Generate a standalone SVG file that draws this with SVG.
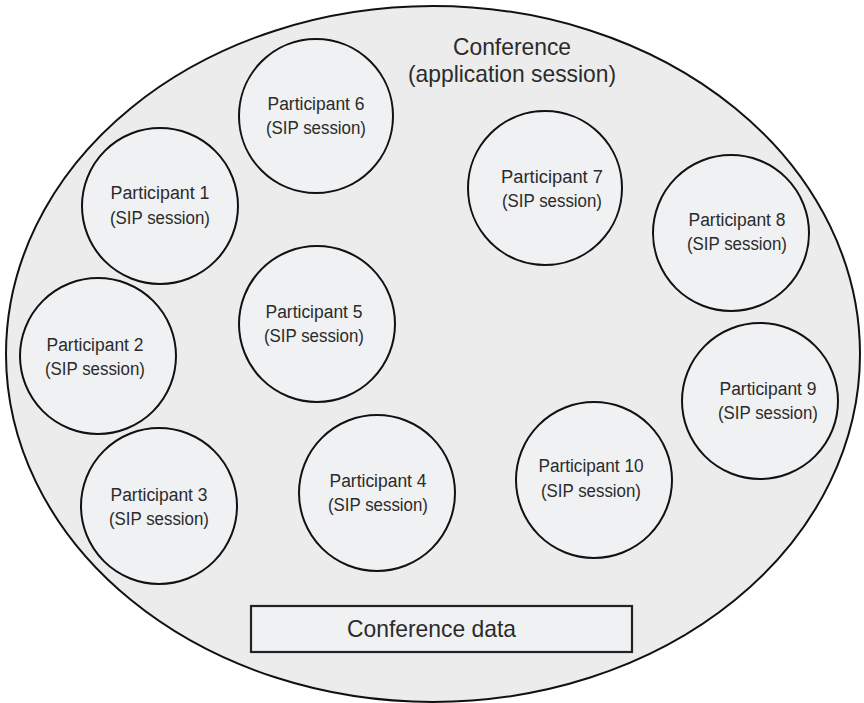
<svg xmlns="http://www.w3.org/2000/svg" width="864" height="703" viewBox="0 0 864 703">
  <style>
    .conf { fill: #ececec; stroke: #111; stroke-width: 2; }
    .part { fill: #f0f1f3; stroke: #111; stroke-width: 2; }
    .box { fill: #f0f1f3; stroke: #222; stroke-width: 2.2; }
    text { font-family: "Liberation Sans Narrow", "Liberation Sans", Arial, sans-serif; fill: #2b2b2b; }
    .lbl { font-size: 18px; text-anchor: middle; }
    .title { font-size: 24px; text-anchor: middle; }
  </style>
  <rect width="864" height="703" fill="#ffffff"/>

  <!-- Conference (application session) -->
  <g id="conference">
    <ellipse class="conf" cx="433" cy="354" rx="427" ry="348"/>
    <text class="title" x="512" y="55" textLength="118" lengthAdjust="spacingAndGlyphs">Conference</text>
    <text class="title" x="512" y="82" textLength="208" lengthAdjust="spacingAndGlyphs">(application session)</text>
  </g>

  <g id="participant6">
    <circle class="part" cx="316" cy="116" r="77"/>
    <text class="lbl" x="316" y="110" textLength="97" lengthAdjust="spacingAndGlyphs">Participant 6</text>
    <text class="lbl" x="316" y="134" textLength="100" lengthAdjust="spacingAndGlyphs">(SIP session)</text>
  </g>

  <g id="participant1">
    <circle class="part" cx="160" cy="206" r="78"/>
    <text class="lbl" x="160" y="199" textLength="99" lengthAdjust="spacingAndGlyphs">Participant 1</text>
    <text class="lbl" x="160" y="224" textLength="100" lengthAdjust="spacingAndGlyphs">(SIP session)</text>
  </g>

  <g id="participant7">
    <circle class="part" cx="545" cy="188" r="77"/>
    <text class="lbl" x="552" y="183" textLength="102" lengthAdjust="spacingAndGlyphs">Participant 7</text>
    <text class="lbl" x="552" y="207" textLength="100" lengthAdjust="spacingAndGlyphs">(SIP session)</text>
  </g>

  <g id="participant8">
    <circle class="part" cx="731" cy="233" r="78"/>
    <text class="lbl" x="737" y="226" textLength="97" lengthAdjust="spacingAndGlyphs">Participant 8</text>
    <text class="lbl" x="737" y="250" textLength="100" lengthAdjust="spacingAndGlyphs">(SIP session)</text>
  </g>

  <g id="participant5">
    <circle class="part" cx="317" cy="324" r="78"/>
    <text class="lbl" x="314" y="318" textLength="97" lengthAdjust="spacingAndGlyphs">Participant 5</text>
    <text class="lbl" x="314" y="342" textLength="100" lengthAdjust="spacingAndGlyphs">(SIP session)</text>
  </g>

  <g id="participant2">
    <circle class="part" cx="98" cy="356" r="78"/>
    <text class="lbl" x="95" y="351" textLength="97" lengthAdjust="spacingAndGlyphs">Participant 2</text>
    <text class="lbl" x="95" y="375" textLength="100" lengthAdjust="spacingAndGlyphs">(SIP session)</text>
  </g>

  <g id="participant9">
    <circle class="part" cx="760" cy="401" r="78"/>
    <text class="lbl" x="768" y="395" textLength="97" lengthAdjust="spacingAndGlyphs">Participant 9</text>
    <text class="lbl" x="768" y="419" textLength="100" lengthAdjust="spacingAndGlyphs">(SIP session)</text>
  </g>

  <g id="participant10">
    <circle class="part" cx="594" cy="480" r="78"/>
    <text class="lbl" x="591" y="472" textLength="105" lengthAdjust="spacingAndGlyphs">Participant 10</text>
    <text class="lbl" x="591" y="497" textLength="100" lengthAdjust="spacingAndGlyphs">(SIP session)</text>
  </g>

  <g id="participant4">
    <circle class="part" cx="377" cy="493" r="78"/>
    <text class="lbl" x="378" y="487" textLength="97" lengthAdjust="spacingAndGlyphs">Participant 4</text>
    <text class="lbl" x="378" y="511" textLength="100" lengthAdjust="spacingAndGlyphs">(SIP session)</text>
  </g>

  <g id="participant3">
    <circle class="part" cx="159" cy="506" r="78"/>
    <text class="lbl" x="159" y="501" textLength="97" lengthAdjust="spacingAndGlyphs">Participant 3</text>
    <text class="lbl" x="159" y="525" textLength="100" lengthAdjust="spacingAndGlyphs">(SIP session)</text>
  </g>

  <g id="conference-data">
    <rect class="box" x="251" y="606" width="381" height="46"/>
    <text x="347" y="637" font-size="24" textLength="169" lengthAdjust="spacingAndGlyphs">Conference data</text>
  </g>

  <!-- no connectors in this diagram -->
  <g id="connectors"/>
</svg>
